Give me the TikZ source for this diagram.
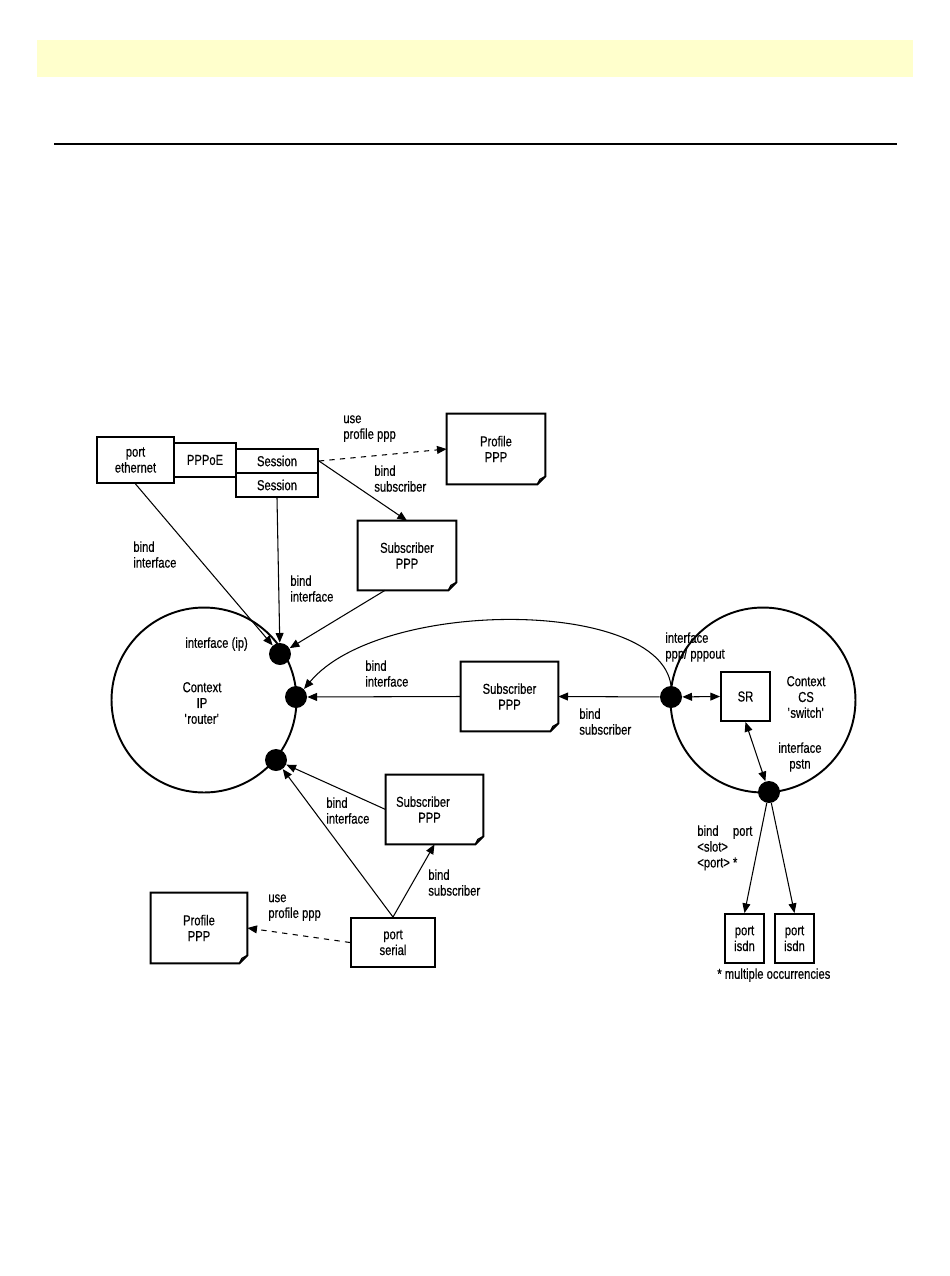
\documentclass[tikz,border=0pt]{standalone}
\usepackage{fontspec}
\setmainfont{Liberation Sans}[FakeStretch=0.78, FakeBold=0.5]
\usetikzlibrary{arrows.meta}

\definecolor{bandyellow}{HTML}{FFFFCC}

% box with a turned-down corner, drawn round a named node
\newcommand{\dogear}[1]{%
  \draw[line width=1.1pt] (#1.north west) -- (#1.north east) -- ([yshift=0.16cm]#1.south east)
    -- ([xshift=-0.16cm]#1.south east) -- (#1.south west) -- cycle;
  \draw[line width=0.7pt] ([xshift=-0.16cm]#1.south east) -- ([xshift=-0.11cm,yshift=0.1cm]#1.south east)
    -- ([yshift=0.16cm]#1.south east);
}

\tikzset{
  box/.style={draw, line width=1.1pt, align=center, inner sep=0pt},
  doc/.style={align=center, inner sep=0pt},
  ctx/.style={draw, circle, line width=1.1pt, minimum size=3.7cm, inner sep=0pt},
  dot/.style={circle, fill, inner sep=0pt, minimum size=0.44cm},
  link/.style={line width=0.6pt, -{Triangle[length=5.5pt,width=4.5pt]}},
  twoway/.style={line width=0.6pt, {Triangle[length=5.5pt,width=4.5pt]}-{Triangle[length=5.5pt,width=4.5pt]}},
  lbl/.style={align=left, inner sep=0pt, anchor=north west},
}

\begin{document}
\begin{tikzpicture}[x=0.02cm, y=-0.02cm, font=\fontsize{8.2}{9}\selectfont]
    \useasboundingbox (0,0) rectangle (950,1276);

    % Page header band and rule
    \fill[bandyellow] (37,40) rectangle (913,77);
    \draw[line width=0.8pt] (54,144) -- (897,144);

    % Ethernet port, PPPoE and its sessions
    \node[box, minimum width=1.54cm, minimum height=0.92cm] (eth) at (135.5,460) {port\\ethernet};
    \node[box, minimum width=1.24cm, minimum height=0.68cm] (pppoe) at (205,460) {PPPoE};
    \node[box, minimum width=1.64cm, minimum height=0.48cm] (sessA) at (277,461) {Session};
    \node[box, minimum width=1.64cm, minimum height=0.48cm] (sessB) at (277,485) {Session};

    % Profiles and subscribers
    \node[doc, minimum width=1.96cm, minimum height=1.40cm] (profTop) at (496,449) {Profile\\PPP};
    \dogear{profTop}
    \node[doc, minimum width=1.96cm, minimum height=1.38cm] (subTop) at (407,555.5) {Subscriber\\PPP};
    \dogear{subTop}
    \node[doc, minimum width=1.94cm, minimum height=1.38cm] (subMid) at (509.5,696.5) {Subscriber\\PPP};
    \dogear{subMid}
    \node[doc, minimum width=1.94cm, minimum height=1.38cm] (subBot) at (434.5,809.5) {Subscriber\hspace*{0.46cm}\\PPP\hspace*{0.2cm}};
    \dogear{subBot}
    \node[doc, minimum width=1.92cm, minimum height=1.40cm] (profBot) at (199,928) {Profile\\PPP};
    \dogear{profBot}

    % Serial port
    \node[box, minimum width=1.68cm, minimum height=0.98cm] (serial) at (393,942.5) {port\\serial};

    % Context IP with its interfaces
    \node[ctx] (ipctx) at (204,700) {};
    \node[align=center, inner sep=0pt] (iptxt) at (202,703) {Context\\IP\\\textquotesingle router\textquotesingle};
    \node[dot] (ipA) at (280,654) {};
    \node[dot] (ipB) at (296,697) {};
    \node[dot] (ipC) at (276,760) {};
    \node[lbl] (ipname) at (185,637) {interface (ip)};

    % Context CS with switch and interfaces
    \node[ctx] (csctx) at (763,700) {};
    \node[align=center, inner sep=0pt] (cstxt) at (806,697) {Context\\CS\\\textquotesingle switch\textquotesingle};
    \node[box, minimum width=0.98cm, minimum height=0.98cm] (sr) at (745.5,696.5) {SR};
    \node[dot] (csA) at (671,697) {};
    \node[dot] (csB) at (769,792) {};
    \node[lbl] (pppname) at (665,632) {interface\\ppp/ pppout};
    \node[align=center, inner sep=0pt] (pstnname) at (800,757) {interface\\pstn};

    % ISDN ports
    \node[box, minimum width=0.78cm, minimum height=0.98cm] (isdnA) at (744.5,938.5) {port\\isdn};
    \node[box, minimum width=0.78cm, minimum height=0.98cm] (isdnB) at (794.5,938.5) {port\\isdn};
    \node[lbl] (note) at (717,968) {* multiple occurrencies};

    % Connectors, top part
    \draw[link, dashed] (sessA.east) -- (profTop.west);
    \draw[link] (sessA.east) -- (subTop.north);
    \draw[link] (eth.south) -- (ipA);
    \draw[link] (sessB.south) -- (ipA);
    \draw[link] ([xshift=-0.44cm]subTop.south) -- (ipA);
    \node[lbl] (useA) at (343,415) {use\\profile ppp};
    \node[lbl] (bsubA) at (374,465) {bind\\subscriber};
    \node[lbl] (bifA) at (133,541) {bind\\interface};
    \node[lbl] (bifB) at (290,575) {bind\\interface};

    % Connectors, middle part
    \draw[link] (csA.north) .. controls (660,598) and (380,598) .. (ipB.north east);
    \draw[link] (csA) -- (subMid.east);
    \draw[link] (subMid.west) -- (ipB);
    \draw[twoway] (csA) -- (sr.west);
    \draw[twoway] (sr.south) -- (csB);
    \node[lbl] (bifC) at (365,660) {bind\\interface};
    \node[lbl] (bsubB) at (579,708) {bind\\subscriber};

    % Connectors, bottom part
    \draw[link] (subBot.west) -- (ipC);
    \draw[link] (serial.north) -- (ipC);
    \draw[link] (serial.north) -- (subBot.south);
    \draw[link, dashed] (serial.west) -- (profBot.east);
    \draw[link] (csB) -- (isdnA.north);
    \draw[link] (csB) -- (isdnB.north);
    \node[lbl] (bifD) at (326,797) {bind\\interface};
    \node[lbl] (bsubC) at (428,869) {bind\\subscriber};
    \node[lbl] (useB) at (268,894) {use\\profile ppp};
    \node[lbl] (bport) at (697,825) {bind\quad port\\\textless slot\textgreater\\\textless port\textgreater\ *};
\end{tikzpicture}
\end{document}
